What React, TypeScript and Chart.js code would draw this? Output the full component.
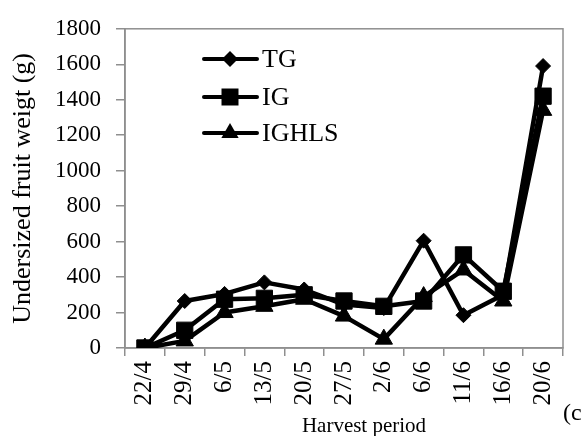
import React, { useEffect, useRef } from "react";
import { Chart, registerables } from "chart.js";

Chart.register(...registerables);

const categories = ["22/4", "29/4", "6/5", "13/5", "20/5", "27/5", "2/6", "6/6", "11/6", "16/6", "20/6"];
const seriesNames = ["TG", "IG", "IGHLS"];
const tgValues = [0, 265, 305, 370, 330, 245, 225, 605, 185, 300, 1590];
const igValues = [0, 100, 275, 280, 300, 265, 235, 265, 525, 320, 1420];
const ighlsValues = [0, 40, 200, 235, 275, 180, 50, 290, 440, 265, 1340];
const yTicks = [0, 200, 400, 600, 800, 1000, 1200, 1400, 1600, 1800];
const yTitle = "Undersized fruit weigt (g)";
const xTitle = "Harvest period";
const panelTag = "(c";

const SERIF = "'Liberation Serif', 'Times New Roman', serif";
const pointStyles = ["rectRot", "rect", "triangle"];
const pointRadii = [7.5, 11.5, 10];

function drawMarker(ctx: CanvasRenderingContext2D, style: string, x: number, y: number) {
  ctx.beginPath();
  if (style === "rectRot") {
    const r = 8;
    ctx.moveTo(x - r, y);
    ctx.lineTo(x, y - r);
    ctx.lineTo(x + r, y);
    ctx.lineTo(x, y + r);
  } else if (style === "rect") {
    const s = 8.5;
    ctx.rect(x - s, y - s, 2 * s, 2 * s);
  } else {
    const r = 10;
    for (let k = 0; k < 3; k++) {
      const a = (k * 2 * Math.PI) / 3;
      const px = x + Math.sin(a) * r;
      const py = y - Math.cos(a) * r;
      if (k === 0) ctx.moveTo(px, py);
      else ctx.lineTo(px, py);
    }
  }
  ctx.closePath();
  ctx.fill();
}

const decorPlugin = {
  id: "decor",
  beforeDatasetsDraw(chart: any) {
    const { ctx, chartArea } = chart;
    ctx.save();
    ctx.strokeStyle = "#8f8f8f";
    ctx.lineWidth = 1.5;
    ctx.strokeRect(chartArea.left, chartArea.top, chartArea.right - chartArea.left, chartArea.bottom - chartArea.top);
    ctx.restore();
  },
  afterDraw(chart: any) {
    const { ctx } = chart;
    ctx.save();
    const rowsY = [59, 97, 133];
    chart.data.datasets.forEach((ds: any, i: number) => {
      const y = rowsY[i];
      ctx.strokeStyle = "#000";
      ctx.fillStyle = "#000";
      ctx.lineWidth = 4;
      ctx.lineCap = "round";
      ctx.beginPath();
      ctx.moveTo(204, y);
      ctx.lineTo(257, y);
      ctx.stroke();
      drawMarker(ctx, pointStyles[i], 230, y);
      ctx.font = `26px ${SERIF}`;
      ctx.textBaseline = "middle";
      ctx.textAlign = "left";
      ctx.fillText(ds.label, 262, y + 1);
    });
    ctx.fillStyle = "#000";
    ctx.font = `21px ${SERIF}`;
    ctx.textAlign = "center";
    ctx.textBaseline = "alphabetic";
    ctx.fillText(xTitle, 364, 432);
    ctx.font = `24px ${SERIF}`;
    ctx.textAlign = "left";
    ctx.textBaseline = "middle";
    ctx.fillText(panelTag, 563, 414);
    ctx.restore();
  },
};

export default function App() {
  const ref = useRef<HTMLCanvasElement | null>(null);
  useEffect(() => {
    if (!ref.current) return;
    const seriesValues = [tgValues, igValues, ighlsValues];
    const chart = new Chart(ref.current, {
      type: "line",
      data: {
        labels: categories,
        datasets: seriesNames.map((name, i) => ({
          label: name,
          data: seriesValues[i],
          borderColor: "#000",
          backgroundColor: "#000",
          borderWidth: 4.5,
          pointStyle: pointStyles[i] as any,
          pointRadius: pointRadii[i],
          pointBorderWidth: 1,
          pointBackgroundColor: "#000",
          pointBorderColor: "#000",
          tension: 0,
          borderJoinStyle: "round" as any,
          order: 3 - i,
        })),
      },
      options: {
        responsive: false,
        animation: false,
        layout: { padding: { top: 25, right: 20, left: 0, bottom: 0 } },
        plugins: { legend: { display: false }, tooltip: { enabled: false } },
        scales: {
          x: {
            type: "category",
            offset: true,
            grid: { drawOnChartArea: false, offset: true, tickLength: 8, color: "#8f8f8f", lineWidth: 1.5 },
            border: { color: "#8f8f8f", width: 1.5 },
            ticks: {
              color: "#000",
              font: { family: SERIF, size: 25 },
              minRotation: 90,
              maxRotation: 90,
              padding: 5,
              autoSkip: false,
            },
            afterFit: (scale: any) => {
              scale.height = 88;
            },
          },
          y: {
            min: 0,
            max: 1800,
            afterBuildTicks: (scale: any) => {
              scale.ticks = yTicks.map((v) => ({ value: v }));
            },
            grid: { drawOnChartArea: false, tickLength: 9, color: "#8f8f8f", lineWidth: 1.5 },
            border: { color: "#8f8f8f", width: 1.5 },
            ticks: {
              color: "#000",
              font: { family: SERIF, size: 23 },
              padding: 15,
              callback: (v: any) => String(v),
            },
            title: {
              display: true,
              text: yTitle,
              color: "#000",
              font: { family: SERIF, size: 26 },
              padding: { top: 8, bottom: 0 },
            },
            afterFit: (scale: any) => {
              scale.width = 125;
            },
          },
        },
      },
      plugins: [decorPlugin],
    });
    return () => chart.destroy();
  }, []);
  return (
    <div style={{ position: "absolute", left: 0, top: 0, width: 583, height: 436, background: "#fff" }}>
      <canvas ref={ref} width={583} height={436} style={{ display: "block", width: 583, height: 436 }} />
    </div>
  );
}
